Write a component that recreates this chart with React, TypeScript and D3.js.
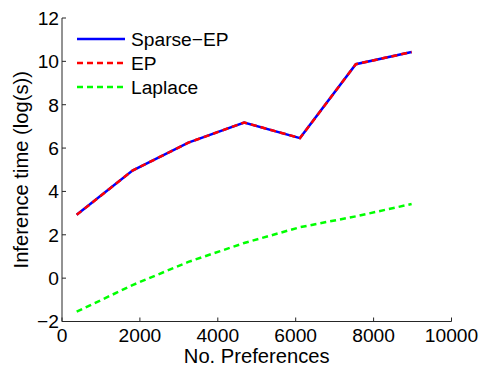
import * as d3 from "d3";

// values
const preferences = [377, 1810, 3244, 4677, 6110, 7543, 8976];
const sparseEP = [2.92, 4.96, 6.25, 7.18, 6.46, 9.87, 10.43];
const ep = [2.92, 4.96, 6.25, 7.18, 6.46, 9.87, 10.43];
const laplace = [-1.55, -0.32, 0.75, 1.62, 2.35, 2.85, 3.42];

const xTicks = [0, 2000, 4000, 6000, 8000, 10000];
const yTicks = [-2, 0, 2, 4, 6, 8, 10, 12];

const series = [
  { name: "Sparse\u2212EP", values: sparseEP, color: "#0000ff", dash: "none" },
  { name: "EP", values: ep, color: "#ff0000", dash: "6,4" },
  { name: "Laplace", values: laplace, color: "#00ff00", dash: "6,4" },
];

const W = 482;
const H = 366;
const MARGIN = { top: 18, right: 30.5, bottom: 44.5, left: 62 };
const AXIS = "#262626";
const FONT = "'Liberation Sans', Arial, Helvetica, sans-serif";
const TICK_FS = 19.2;
const LABEL_FS = 20.2;

export default function App() {
  const x = d3
    .scaleLinear()
    .domain([0, 10000])
    .range([MARGIN.left, W - MARGIN.right]);
  const y = d3
    .scaleLinear()
    .domain([-2, 12])
    .range([H - MARGIN.bottom, MARGIN.top]);

  const line = d3
    .line<number>()
    .x((_, i) => x(preferences[i]))
    .y((d) => y(d));

  const x0 = x(0);
  const y0 = y(-2);

  return (
    <svg
      width={W}
      height={H}
      style={{ position: "absolute", left: 0, top: 0, background: "#fff" }}
      fontFamily={FONT}
    >
      {/* axes */}
      <line x1={x0} x2={x(10000)} y1={y0} y2={y0} stroke={AXIS} strokeWidth={1} />
      <line x1={x0} x2={x0} y1={y0} y2={y(12)} stroke={AXIS} strokeWidth={1} />

      {xTicks.map((t) => (
        <g key={"x" + t}>
          <line x1={x(t)} x2={x(t)} y1={y0} y2={y0 - 4} stroke={AXIS} />
          <text x={x(t)} y={y0 + 20.5} textAnchor="middle" fontSize={TICK_FS} fill="#000">
            {t}
          </text>
        </g>
      ))}
      {yTicks.map((t) => (
        <g key={"y" + t}>
          <line x1={x0} x2={x0 + 4} y1={y(t)} y2={y(t)} stroke={AXIS} />
          <text x={x0 - 3} y={y(t)} dy="0.36em" textAnchor="end" fontSize={TICK_FS} fill="#000">
            {t < 0 ? "\u2212" + Math.abs(t) : t}
          </text>
        </g>
      ))}

      {/* labels */}
      <text x={(x0 + x(10000)) / 2} y={362.5} textAnchor="middle" fontSize={LABEL_FS} fill="#000">
        No. Preferences
      </text>
      <text
        transform={`translate(28,${(y0 + y(12)) / 2}) rotate(-90)`}
        textAnchor="middle"
        fontSize={LABEL_FS}
        fill="#000"
      >
        Inference time (log(s))
      </text>

      {/* series */}
      {series.map((s) => (
        <path
          key={s.name}
          d={line(s.values) ?? ""}
          fill="none"
          stroke={s.color}
          strokeWidth={2.5}
          strokeDasharray={s.dash}
        />
      ))}

      {/* legend */}
      {series.map((s, i) => {
        const ly = 39 + i * 24;
        return (
          <g key={"leg" + s.name}>
            <line
              x1={77}
              x2={125}
              y1={ly}
              y2={ly}
              stroke={s.color}
              strokeWidth={2.5}
              strokeDasharray={s.dash}
            />
            <text x={131} y={ly} dy="0.36em" fontSize={TICK_FS} fill="#000">
              {s.name}
            </text>
          </g>
        );
      })}
    </svg>
  );
}
